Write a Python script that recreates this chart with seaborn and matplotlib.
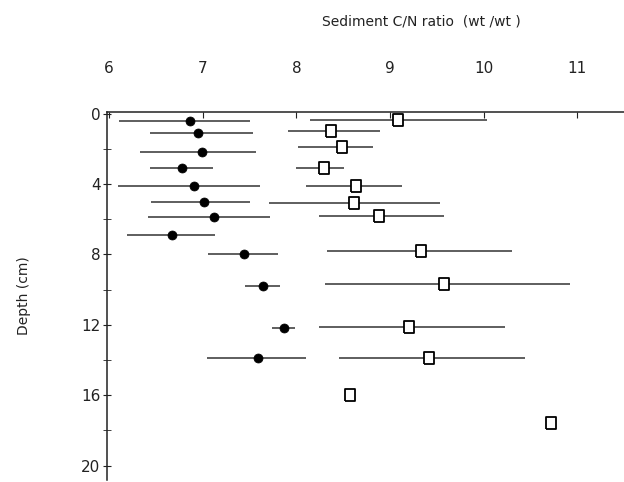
import numpy as np
import pandas as pd
import seaborn as sns
import matplotlib.pyplot as plt

# Filled circles: depth (cm), C/N, lower and upper end of bar
circle_depth = [0.4, 1.1, 2.2, 3.1, 4.1, 5.0, 5.9, 6.9, 8.0, 9.8, 12.2, 13.9]
circle_cn = [6.86, 6.95, 6.99, 6.78, 6.91, 7.01, 7.12, 6.67, 7.44, 7.64, 7.87, 7.59]
circle_lo = [6.11, 6.44, 6.33, 6.44, 6.09, 6.45, 6.41, 6.19, 7.06, 7.45, 7.74, 7.04]
circle_hi = [7.50, 7.54, 7.57, 7.11, 7.61, 7.50, 7.72, 7.13, 7.80, 7.82, 7.98, 8.10]

# Open squares (last two have no bars)
square_depth = [0.35, 1.0, 1.9, 3.1, 4.1, 5.1, 5.8, 7.8, 9.7, 12.1, 13.9, 16.0, 17.6]
square_cn = [9.09, 8.37, 8.49, 8.30, 8.64, 8.62, 8.88, 9.33, 9.58, 9.20, 9.42, 8.57, 10.72]
square_lo = [8.14, 7.91, 8.02, 8.00, 8.10, 7.71, 8.24, 8.33, 8.31, 8.24, 8.45, np.nan, np.nan]
square_hi = [10.04, 8.89, 8.82, 8.51, 9.13, 9.53, 9.58, 10.30, 10.92, 10.23, 10.44, np.nan, np.nan]

x_ticks = [6, 7, 8, 9, 10, 11]
y_ticks = [0, 4, 8, 12, 16, 20]
y_minor = [2, 6, 10, 14, 18]

circles = pd.DataFrame({'depth': circle_depth, 'cn': circle_cn, 'lo': circle_lo, 'hi': circle_hi})
squares = pd.DataFrame({'depth': square_depth, 'cn': square_cn, 'lo': square_lo, 'hi': square_hi})

sns.set_style('ticks')
plt.rcParams['font.family'] = ['DejaVu Sans']
ink = '#222222'

# slightly tall rectangle marker, like the reference's squares
tall_box = [(-0.8, -1), (0.8, -1), (0.8, 1), (-0.8, 1), (-0.8, -1)]

fig = plt.figure(figsize=(6.24, 4.82), dpi=100)
ax = fig.add_axes([0.172, 0.005, 0.828, 0.763])

# error bars
ax.hlines(circles['depth'], circles['lo'], circles['hi'], color='#333333', lw=1.1, zorder=1)
sq_bars = squares.dropna()
ax.hlines(sq_bars['depth'], sq_bars['lo'], sq_bars['hi'], color='#333333', lw=1.1, zorder=1)

sns.scatterplot(data=circles, x='cn', y='depth', marker='o', s=42, color='black',
                edgecolor='black', ax=ax, zorder=3)
sns.scatterplot(data=squares, x='cn', y='depth', marker=tall_box, s=80, color='white',
                edgecolor='black', linewidth=1.3, ax=ax, zorder=3)

ax.set_xlim(5.98, 11.5)
ax.set_ylim(20.8, -0.1)
ax.xaxis.tick_top()
ax.xaxis.set_label_position('top')
ax.set_xticks(x_ticks)
ax.set_yticks(y_ticks)
ax.set_yticks(y_minor, minor=True)
ax.tick_params(axis='x', direction='in', length=4, pad=26, labelsize=11, colors=ink)
ax.tick_params(axis='y', which='both', direction='inout', length=6, pad=2, labelsize=11, colors=ink)
ax.set_xlabel('Sediment C/N ratio  (wt /wt )', fontsize=10, color=ink)
ax.set_ylabel('Depth (cm)', fontsize=10, color=ink, labelpad=36)
ax.xaxis.set_label_coords(0.607, 1.235)

for side in ['right', 'bottom']:
    ax.spines[side].set_visible(False)
for side in ['top', 'left']:
    ax.spines[side].set_color(ink)
    ax.spines[side].set_linewidth(1.1)

fig.savefig('out.png', dpi=100)
